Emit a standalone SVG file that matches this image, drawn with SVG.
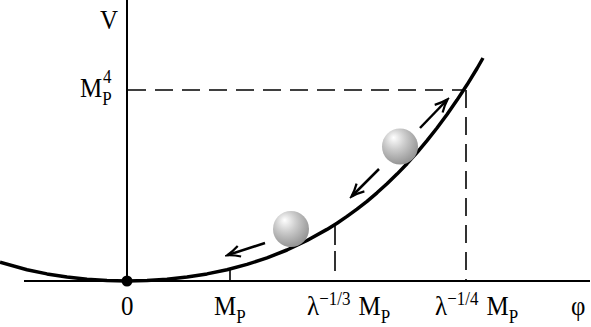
<svg xmlns="http://www.w3.org/2000/svg" width="591" height="327" viewBox="0 0 591 327">
<style>
.axis{stroke:#000;stroke-width:2;fill:none}
.curve{stroke:#000;stroke-width:3.5;fill:none;stroke-linejoin:round}
.dash{stroke:#000;stroke-width:1.6;fill:none;stroke-dasharray:18 9}
.arrow{stroke:#000;stroke-width:2.5;fill:none;marker-end:url(#ah)}
text{font-family:"Liberation Serif","Times New Roman",serif;fill:#000}
.big{font-size:25px}
.small{font-size:17px}
</style>
<defs>
<radialGradient id="ball" cx="0.4" cy="0.35" r="0.65" fx="0.32" fy="0.25">
<stop offset="0" stop-color="#ffffff"/>
<stop offset="0.45" stop-color="#cccccc"/>
<stop offset="1" stop-color="#959595"/>
</radialGradient>
<marker id="ah" markerWidth="16" markerHeight="14" refX="13" refY="7" orient="auto" markerUnits="userSpaceOnUse">
<path d="M1,1.5 Q7,5 14,7 Q7,9 1,12.5" stroke="#000" stroke-width="2.2" fill="none"/>
</marker>
</defs>
<g id="axes">
<line class="axis" x1="127" y1="0" x2="127" y2="281"/>
<line class="axis" x1="24" y1="281" x2="590" y2="281"/>
</g>
<g id="guides">
<line class="dash" x1="128" y1="90" x2="465" y2="90"/>
<line class="dash" x1="466" y1="90" x2="466" y2="281"/>
<line class="dash" x1="335" y1="225" x2="335" y2="273" style="stroke-dasharray:20 6"/>
<line class="axis" x1="230" y1="269" x2="230" y2="281" style="stroke-width:1.6"/>
</g>
<g id="potential">
<path class="curve" d="M0,262.3 L27,269.7 L47,273.9 L67,277.1 L87,279.3 L107,280.6 L127,281 L147,280.6 L167,279.3 L187,277.1 L207,273.9 L227,269.7 L247,264.4 L267,257.9 L287,250 L307,240.5 L327,229.4 L337,223.2 L347,216.4 L357,209.1 L367,201.3 L377,192.8 L387,183.8 L397,174.1 L407,163.7 L417,152.6 L427,140.7 L437,128 L447,114.5 L457,100.1 L467,84.8 L477,68.5 L483,58"/>
</g>
<g id="origin"><circle cx="127" cy="281" r="5.5" fill="#000"/></g>
<g id="ball1"><circle cx="400" cy="146.5" r="18" fill="url(#ball)"/></g>
<g id="ball2"><circle cx="291" cy="229" r="18" fill="url(#ball)"/></g>
<g id="connectors">
<line class="arrow" x1="420" y1="128" x2="447" y2="100"/>
<line class="arrow" x1="379" y1="169" x2="352" y2="196"/>
<line class="arrow" x1="265" y1="243" x2="228" y2="255"/>
</g>
<g id="labels">
<text class="big" transform="translate(100,29) scale(1,1.12)">V</text>
<text transform="translate(80,97) scale(1,1.12)"><tspan class="big">M</tspan><tspan class="small" dy="7">P</tspan></text>
<text class="small" transform="translate(103,83) scale(1,1.12)">4</text>
<text class="big" transform="translate(121,315) scale(1,1.12)">0</text>
<text transform="translate(214,315) scale(1,1.12)"><tspan class="big">M</tspan><tspan class="small" dy="7">P</tspan></text>
<text transform="translate(307,315) scale(1,1.12)"><tspan class="big">λ</tspan><tspan class="small" dy="-9">−1/3</tspan><tspan class="big" dx="8" dy="9">M</tspan><tspan class="small" dy="7">P</tspan></text>
<text transform="translate(435,315) scale(1,1.12)"><tspan class="big">λ</tspan><tspan class="small" dy="-9">−1/4</tspan><tspan class="big" dx="8" dy="9">M</tspan><tspan class="small" dy="7">P</tspan></text>
<text class="big" transform="translate(571,315) scale(1,1.12)">φ</text>
</g>
</svg>
